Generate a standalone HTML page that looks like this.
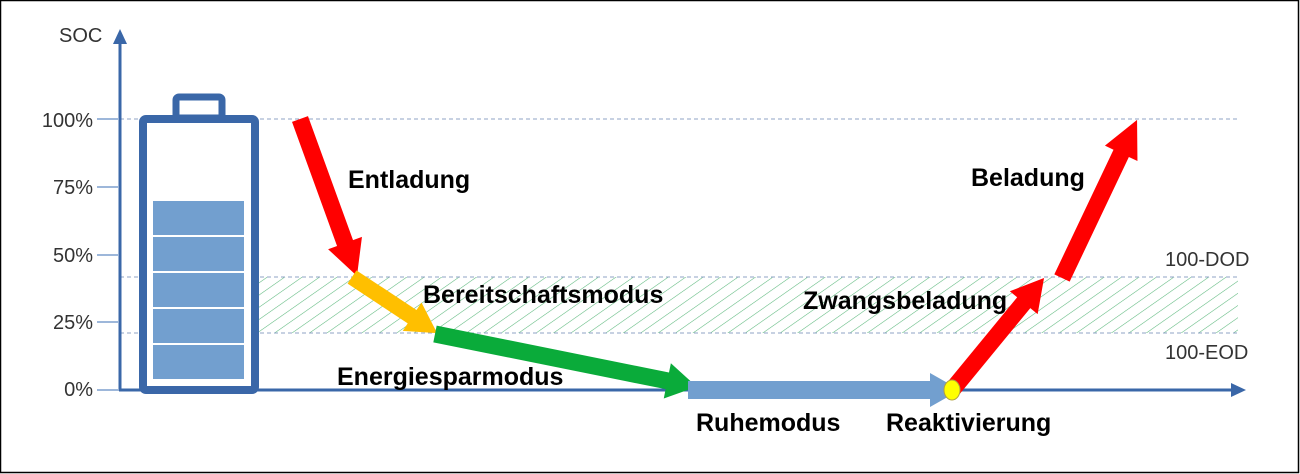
<!DOCTYPE html>
<html><head><meta charset="utf-8"><style>
html,body{margin:0;padding:0;background:#fff}
svg{display:block}
text{font-family:"Liberation Sans",Arial,sans-serif}
.b{font-weight:bold;font-size:25px;fill:#000}
.t{font-size:20px;fill:#333}
</style></head><body>
<svg width="1300" height="474" viewBox="0 0 1300 474">
<defs>
<pattern id="h" width="10" height="10" patternUnits="userSpaceOnUse" patternTransform="rotate(55)">
<line x1="0" y1="0" x2="0" y2="10" stroke="#5cb87c" stroke-width="1.1"/>
</pattern>
</defs>
<rect x="0.5" y="0.5" width="1298" height="472" fill="#fff" stroke="#000" stroke-width="1.5"/>
<rect x="255" y="277" width="983" height="56" fill="url(#h)"/>
<g stroke="#8fa3c6" stroke-width="1" stroke-dasharray="4,3">
<line x1="120" y1="119" x2="1238" y2="119"/>
<line x1="120" y1="277" x2="1238" y2="277"/>
<line x1="120" y1="333" x2="1238" y2="333"/>
</g>
<g stroke="#7d9fce" stroke-width="1.5">
<line x1="97" y1="119" x2="118" y2="119"/>
<line x1="97" y1="187" x2="118" y2="187"/>
<line x1="97" y1="255" x2="118" y2="255"/>
<line x1="97" y1="322" x2="118" y2="322"/>
<line x1="97" y1="390" x2="118" y2="390"/>
</g>
<g class="t" text-anchor="end">
<text x="93" y="127">100%</text>
<text x="93" y="194">75%</text>
<text x="93" y="262">50%</text>
<text x="93" y="329">25%</text>
<text x="93" y="396">0%</text>
</g>
<text class="t" x="59" y="42">SOC</text>
<line x1="120" y1="391" x2="120" y2="42" stroke="#3a67a8" stroke-width="3"/>
<polygon points="120,29 113,44 127,44" fill="#3a67a8"/>
<line x1="119" y1="390" x2="1232" y2="390" stroke="#3a67a8" stroke-width="3"/>
<polygon points="1246,390 1231,383 1231,397" fill="#3a67a8"/>
<rect x="176" y="97" width="46" height="21" rx="3" fill="none" stroke="#3a67a8" stroke-width="7"/>
<rect x="143" y="119" width="112" height="271" rx="3" fill="#fff" stroke="#3a67a8" stroke-width="8"/>
<g fill="#729fcf">
<rect x="153" y="201" width="91" height="34"/>
<rect x="153" y="237" width="91" height="34"/>
<rect x="153" y="273" width="91" height="34"/>
<rect x="153" y="309" width="91" height="34"/>
<rect x="153" y="345" width="91" height="34"/>
</g>
<g transform="translate(300,119) rotate(70.05)"><polygon points="0,-8.5 132,-8.5 132,-18 167,0 132,18 132,8.5 0,8.5" fill="#ff0000"/></g>
<g transform="translate(352,277) rotate(33.4)"><polygon points="0,-8 72,-8 72,-17 102,0 72,17 72,8 0,8" fill="#ffbf00"/></g>
<g transform="translate(435,334) rotate(11.4)"><polygon points="0,-8.5 237,-8.5 237,-18 267,0 237,18 237,8.5 0,8.5" fill="#0aab3a"/></g>
<g transform="translate(688,390)"><polygon points="0,-9 242,-9 242,-17 272,0 242,17 242,9 0,9" fill="#729fcf"/></g>
<g transform="translate(952,390) rotate(-50.6)"><polygon points="0,-8.5 113,-8.5 113,-18 145,0 113,18 113,8.5 0,8.5" fill="#ff0000"/></g>
<g transform="translate(1062,278) rotate(-64.6)"><polygon points="0,-8.5 138,-8.5 138,-18 175,0 138,18 138,8.5 0,8.5" fill="#ff0000"/></g>
<ellipse cx="952" cy="390" rx="8" ry="10" fill="#ffff00" stroke="#b0a040" stroke-width="1"/>
<text class="b" x="348" y="188">Entladung</text>
<text class="b" x="423" y="303">Bereitschaftsmodus</text>
<text class="b" x="337" y="385">Energiesparmodus</text>
<text class="b" x="696" y="431">Ruhemodus</text>
<text class="b" x="886" y="431">Reaktivierung</text>
<text class="b" x="971" y="186">Beladung</text>
<text class="b" x="803" y="309">Zwangsbeladung</text>
<text class="t" x="1165" y="266">100-DOD</text>
<text class="t" x="1165" y="359">100-EOD</text>
</svg>
</body></html>
